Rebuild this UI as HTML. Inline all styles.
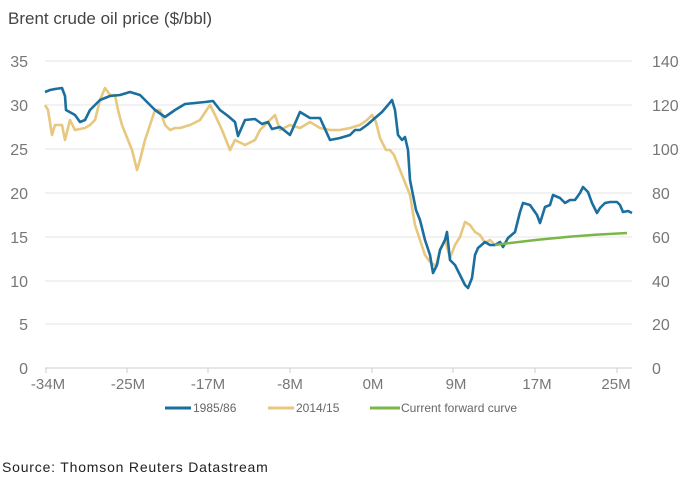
<!DOCTYPE html>
<html><head><meta charset="utf-8"><style>
html,body{margin:0;padding:0;background:#fff;}
svg{display:block;}
</style></head><body>
<svg width="695" height="480" viewBox="0 0 695 480" xmlns="http://www.w3.org/2000/svg" font-family="Liberation Sans, sans-serif">
<rect width="695" height="480" fill="#fff"/>
<text x="8" y="24" font-size="17" fill="#444">Brent crude oil price ($/bbl)</text>
<g stroke="#e6e6e6" stroke-width="1">
<line x1="45" x2="632" y1="61" y2="61"/><line x1="45" x2="632" y1="105" y2="105"/>
<line x1="45" x2="632" y1="149" y2="149"/><line x1="45" x2="632" y1="193" y2="193"/>
<line x1="45" x2="632" y1="237" y2="237"/><line x1="45" x2="632" y1="281" y2="281"/>
<line x1="45" x2="632" y1="324" y2="324"/>
</g>
<line x1="45" x2="632" y1="368" y2="368" stroke="#ccc"/>
<g stroke="#ccc"><line x1="46" x2="46" y1="368" y2="373"/><line x1="127" x2="127" y1="368" y2="373"/><line x1="208" x2="208" y1="368" y2="373"/><line x1="290" x2="290" y1="368" y2="373"/><line x1="372" x2="372" y1="368" y2="373"/><line x1="453" x2="453" y1="368" y2="373"/><line x1="535" x2="535" y1="368" y2="373"/><line x1="617" x2="617" y1="368" y2="373"/></g>
<g font-size="16" fill="#777" text-anchor="end">
<text x="28" y="67">35</text><text x="28" y="111">30</text><text x="28" y="155">25</text><text x="28" y="199">20</text><text x="28" y="243">15</text><text x="28" y="287">10</text><text x="28" y="330">5</text><text x="28" y="374">0</text>
</g>
<g font-size="16" fill="#777" text-anchor="start">
<text x="652" y="67">140</text><text x="652" y="111">120</text><text x="652" y="155">100</text><text x="652" y="199">80</text><text x="652" y="243">60</text><text x="652" y="287">40</text><text x="652" y="330">20</text><text x="652" y="374">0</text>
</g>
<g font-size="15" fill="#777" text-anchor="middle">
<text x="48" y="389">-34M</text><text x="128" y="389">-25M</text><text x="208" y="389">-17M</text><text x="290" y="389">-8M</text><text x="373" y="389">0M</text><text x="456" y="389">9M</text><text x="537" y="389">17M</text><text x="616" y="389">25M</text>
</g>
<polyline fill="none" stroke="#e8c77e" stroke-width="2.6" stroke-linejoin="round" points="45,105 48,110 52,135 55,125 62,125 65,140 70,120 75,130 85,128 90,125 95,120 100,100 105,88 110,95 115,95 118,110 122,125 128,140 132,150 137,170 140,160 145,140 150,125 155,110 160,110 165,125 170,130 175,128 180,128 190,125 200,120 210,105 215,115 222,130 230,150 235,140 245,145 255,140 260,130 270,120 275,115 280,130 290,125 300,128 310,122 320,128 330,130 340,130 350,128 360,125 367,120 372,115 376,122 380,138 386,150 390,150 394,155 398,165 402,175 406,185 410,195 415,225 420,240 425,255 430,262 436,266 440,250 445,240 450,258 455,245 460,237 465,222 470,225 475,232 480,235 485,243 490,240 495,245"/>
<polyline fill="none" stroke="#1b6f9e" stroke-width="2.6" stroke-linejoin="round" points="45,92 50,90 55,89 62,88 65,96 66,110 75,115 80,122 85,120 90,110 100,100 110,96 120,95 130,92 140,95 150,105 155,110 165,117 175,110 185,104 195,103 205,102 213,101 220,110 228,116 235,122 238,136 245,120 255,119 262,124 268,122 272,129 280,127 290,135 300,112 310,118 320,118 330,140 340,138 350,135 355,130 360,130 367,125 375,118 382,112 388,105 392,100 395,110 398,135 402,140 405,137 408,150 410,180 412,190 416,210 420,220 425,240 430,255 433,273 437,265 440,250 445,240 447,232 450,260 455,265 460,275 465,285 468,288 472,278 475,255 478,248 485,242 490,245 495,245 500,242 503,247 508,238 515,232 520,212 523,203 530,205 537,215 540,223 545,207 550,205 553,195 560,198 565,203 570,200 575,200 580,193 583,187 588,192 592,203 597,213 600,208 605,203 610,202 617,202 620,205 623,212 628,211 632,213"/>
<path d="M495,245 Q560,236 627,233" fill="none" stroke="#7ab648" stroke-width="2.4"/>
<g font-size="12" fill="#666">
<line x1="165" x2="191" y1="408" y2="408" stroke="#1b6f9e" stroke-width="3"/><text x="193" y="412">1985/86</text>
<line x1="268" x2="294" y1="408" y2="408" stroke="#e8c77e" stroke-width="3"/><text x="296" y="412">2014/15</text>
<line x1="370" x2="400" y1="408" y2="408" stroke="#7ab648" stroke-width="3"/><text x="401" y="412">Current forward curve</text>
</g>
<text x="2" y="472" font-size="14" fill="#222" letter-spacing="0.8">Source: Thomson Reuters Datastream</text>
</svg>
</body></html>
